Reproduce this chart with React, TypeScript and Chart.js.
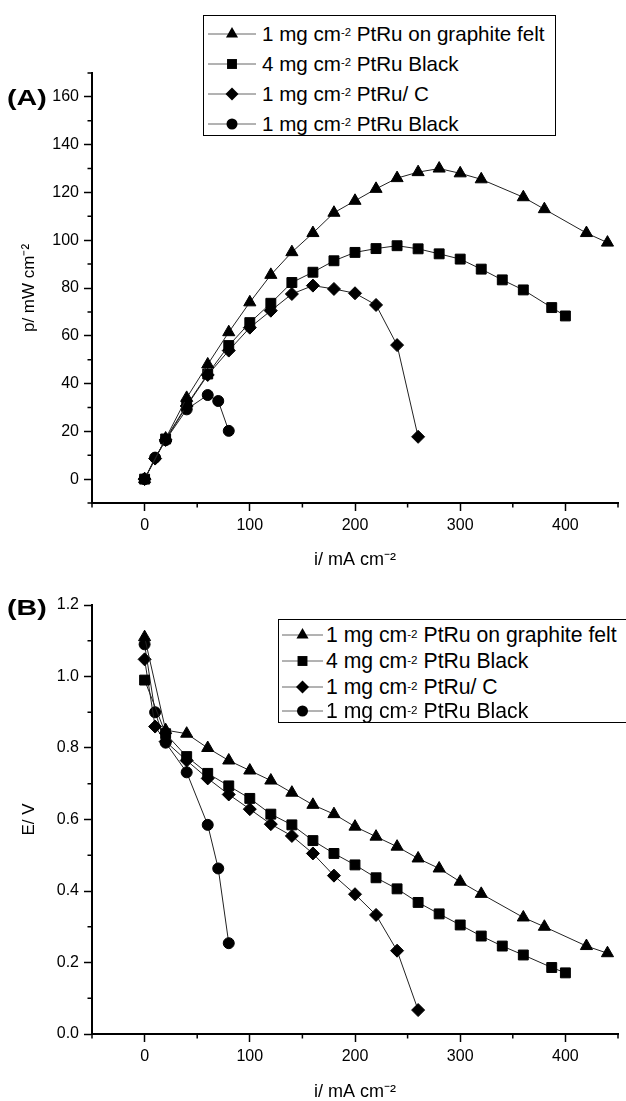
import React, { useEffect, useRef } from 'react';
import { Chart, registerables } from 'chart.js';

Chart.register(...registerables);

// ---------------- data ----------------
const SERIES_PREFIX = ['1 mg cm', '4 mg cm', '1 mg cm', '1 mg cm'];
const SERIES_SUP = ['-2', '-2', '-2', '-2'];
const SERIES_SUFFIX = [' PtRu on graphite felt', ' PtRu Black', ' PtRu/ C', ' PtRu Black'];

// 1 mg cm-2 PtRu on graphite felt
const feltI = [0, 20, 40, 60, 80, 100, 120, 140, 160, 180, 200, 220, 240, 260, 280, 300, 320, 360, 380, 420, 440];
const feltP = [0, 17, 34, 48, 61.5, 74, 85.5, 95, 103, 111.5, 116.5, 121.5, 126, 128.5, 130, 128, 125.5, 118, 113, 103, 99];
const feltE = [1.11, 0.85, 0.84, 0.8, 0.765, 0.737, 0.709, 0.675, 0.641, 0.615, 0.58, 0.552, 0.524, 0.491, 0.463, 0.426, 0.392, 0.326, 0.3, 0.246, 0.226];

// 4 mg cm-2 PtRu Black
const black4I = [0, 20, 40, 60, 80, 100, 120, 140, 160, 180, 200, 220, 240, 260, 280, 300, 320, 340, 360, 387, 400];
const black4P = [0, 16.8, 31, 44, 55.9, 65.5, 73.6, 82.3, 86.6, 91.4, 94.9, 96.5, 97.7, 96.4, 94.3, 92.1, 87.9, 83.4, 79.2, 71.8, 68.3];
const black4E = [0.99, 0.84, 0.776, 0.729, 0.694, 0.659, 0.615, 0.585, 0.541, 0.505, 0.473, 0.437, 0.406, 0.368, 0.336, 0.305, 0.274, 0.246, 0.221, 0.186, 0.171];

// 1 mg cm-2 PtRu/ C
const carbonI = [0, 10, 20, 40, 60, 80, 100, 120, 140, 160, 180, 200, 220, 240, 260];
const carbonP = [0, 8.6, 16.4, 30.6, 43.6, 53.8, 63.4, 70.5, 77.5, 81, 79.6, 77.8, 72.9, 56.1, 17.7];
const carbonE = [1.048, 0.86, 0.818, 0.765, 0.715, 0.67, 0.629, 0.587, 0.554, 0.505, 0.443, 0.391, 0.333, 0.233, 0.067];

// 1 mg cm-2 PtRu Black
const black1I = [0, 10, 20, 40, 60, 70, 80];
const black1P = [0, 9, 16.3, 29.2, 35.2, 32.7, 20.2];
const black1E = [1.09, 0.9, 0.815, 0.732, 0.585, 0.463, 0.254];

const xTicks = [0, 100, 200, 300, 400];
const xMinorTicks = [-50, 50, 150, 250, 350, 450];
const pTicks = [0, 20, 40, 60, 80, 100, 120, 140, 160];
const pMinorTicks = [-10, 10, 30, 50, 70, 90, 110, 130, 150, 170];
const eTicks = [0, 0.2, 0.4, 0.6, 0.8, 1.0, 1.2];
const eMinorTicks = [0.1, 0.3, 0.5, 0.7, 0.9, 1.1];

// ---------------- styles ----------------
const FONT = "'Liberation Sans', Arial, Helvetica, sans-serif";
const POINT_STYLES = ['triangle', 'rect', 'rectRot', 'circle'];
const POINT_RADII = [7, 7, 6.5, 5.5];
const LINE_COLOR = '#222';

function zip(xs: number[], ys: number[]) {
  return xs.map((x, i) => ({ x, y: ys[i] }));
}

function makeDatasets(series: { x: number; y: number }[][]) {
  return series.map((data, i) => ({
    label: SERIES_PREFIX[i] + '\u207B\u00B2' + SERIES_SUFFIX[i],
    data,
    borderColor: LINE_COLOR,
    borderWidth: 1,
    backgroundColor: '#000',
    pointBackgroundColor: '#000',
    pointBorderColor: '#000',
    pointBorderWidth: 1,
    pointStyle: POINT_STYLES[i],
    pointRadius: POINT_RADII[i],
    tension: 0,
    clip: false as any,
  }));
}

function makeMinorPlugin(xs: number[], ys: number[], len: number) {
  return {
    id: 'minorTicks',
    afterDraw(chart: any) {
      const { ctx } = chart;
      const x = chart.scales.x;
      const y = chart.scales.y;
      ctx.save();
      ctx.strokeStyle = '#000';
      ctx.lineWidth = 1.5;
      ctx.beginPath();
      for (const v of xs) {
        const px = x.getPixelForValue(v);
        ctx.moveTo(px, y.bottom);
        ctx.lineTo(px, y.bottom + len);
      }
      for (const v of ys) {
        const py = y.getPixelForValue(v);
        ctx.moveTo(x.left, py);
        ctx.lineTo(x.left - len, py);
      }
      ctx.stroke();
      ctx.restore();
    },
  };
}

interface PanelOpts {
  datasets: any[];
  yMin: number;
  yMax: number;
  yTicks: number[];
  yMinor: number[];
  yDecimals: number;
  yTitle: string;
  padTop: number;
  xAxisHeight: number;
  xTitlePadBottom: number;
}

function makeConfig(o: PanelOpts): any {
  return {
    type: 'line',
    data: { datasets: o.datasets },
    plugins: [makeMinorPlugin(xMinorTicks, o.yMinor, 4.5)],
    options: {
      animation: false,
      responsive: false,
      maintainAspectRatio: false,
      devicePixelRatio: 1,
      layout: { padding: { top: o.padTop, right: 3, left: 0, bottom: 0 } },
      plugins: {
        legend: { display: false },
        tooltip: { enabled: false },
        title: { display: false },
      },
      scales: {
        x: {
          type: 'linear',
          min: -50,
          max: 450,
          afterBuildTicks: (s: any) => {
            s.ticks = xTicks.map((v) => ({ value: v }));
          },
          afterFit: (s: any) => {
            s.height = o.xAxisHeight;
          },
          grid: {
            drawOnChartArea: false,
            drawTicks: true,
            tickLength: 8,
            tickColor: '#000',
            tickWidth: 1.5,
          },
          border: { display: true, color: '#000', width: 2 },
          ticks: {
            color: '#000',
            font: { family: FONT, size: 16 },
            padding: 5,
            maxRotation: 0,
            callback: (v: any) => String(v),
          },
          title: {
            display: true,
            text: 'i/ mA cm\u207B\u00B2',
            color: '#000',
            font: { family: FONT, size: 18, lineHeight: 1 },
            padding: { top: 0, bottom: o.xTitlePadBottom },
          },
        },
        y: {
          type: 'linear',
          min: o.yMin,
          max: o.yMax,
          afterBuildTicks: (s: any) => {
            s.ticks = o.yTicks.map((v) => ({ value: v }));
          },
          afterFit: (s: any) => {
            s.width = 92;
          },
          grid: {
            drawOnChartArea: false,
            drawTicks: true,
            tickLength: 8,
            tickColor: '#000',
            tickWidth: 1.5,
          },
          border: { display: true, color: '#000', width: 2 },
          ticks: {
            color: '#000',
            font: { family: FONT, size: 16 },
            padding: 5,
            callback: (v: any) => Number(v).toFixed(o.yDecimals),
          },
          title: {
            display: true,
            text: o.yTitle,
            color: '#000',
            font: { family: FONT, size: 17, lineHeight: 1 },
            padding: { top: 21, bottom: 0 },
          },
        },
      },
    },
  };
}

function MarkerIcon({ idx, width }: { idx: number; width: number }) {
  const h = 22;
  const cx = width / 2;
  const cy = h / 2;
  const r = POINT_RADII[idx];
  let shape: React.ReactNode = null;
  const style = POINT_STYLES[idx];
  if (style === 'triangle') {
    const pts = [0, 1, 2]
      .map((k) => {
        const a = (k * 2 * Math.PI) / 3;
        return `${cx + Math.sin(a) * r},${cy - Math.cos(a) * r}`;
      })
      .join(' ');
    shape = <polygon points={pts} fill="#000" />;
  } else if (style === 'rect') {
    const s = r * Math.SQRT1_2;
    shape = <rect x={cx - s} y={cy - s} width={2 * s} height={2 * s} fill="#000" />;
  } else if (style === 'rectRot') {
    shape = <polygon points={`${cx},${cy - r} ${cx + r},${cy} ${cx},${cy + r} ${cx - r},${cy}`} fill="#000" />;
  } else {
    shape = <circle cx={cx} cy={cy} r={r} fill="#000" />;
  }
  return (
    <svg width={width} height={h} style={{ display: 'block' }}>
      <line x1={0} y1={cy} x2={width} y2={cy} stroke="#666" strokeWidth={1} />
      {shape}
    </svg>
  );
}

function Legend(props: {
  left: number;
  top: number;
  width: number;
  height: number;
  rows: number[];
  iconLeft: number;
  iconWidth: number;
  textLeft: number;
  fontSize: number;
}) {
  return (
    <div
      style={{
        position: 'absolute',
        left: props.left,
        top: props.top,
        width: props.width,
        height: props.height,
        border: '1.5px solid #000',
        boxSizing: 'border-box',
        background: '#fff',
        fontFamily: FONT,
        color: '#000',
      }}
    >
      {SERIES_PREFIX.map((p, i) => (
        <div key={i}>
          <div style={{ position: 'absolute', left: props.iconLeft, top: props.rows[i] - 11 }}>
            <MarkerIcon idx={i} width={props.iconWidth} />
          </div>
          <div
            style={{
              position: 'absolute',
              left: props.textLeft,
              top: props.rows[i] - props.fontSize * 0.6,
              fontSize: props.fontSize,
              lineHeight: `${props.fontSize * 1.2}px`,
              whiteSpace: 'nowrap',
            }}
          >
            {p}
            <sup style={{ fontSize: '0.55em', verticalAlign: 'top', position: 'relative', top: '-0.15em' }}>
              {SERIES_SUP[i]}
            </sup>
            {SERIES_SUFFIX[i]}
          </div>
        </div>
      ))}
    </div>
  );
}

export default function App() {
  const refA = useRef<HTMLCanvasElement>(null);
  const refB = useRef<HTMLCanvasElement>(null);

  useEffect(() => {
    const cfgA = makeConfig({
      datasets: makeDatasets([
        zip(feltI, feltP),
        zip(black4I, black4P),
        zip(carbonI, carbonP),
        zip(black1I, black1P),
      ]),
      yMin: -10,
      yMax: 170,
      yTicks: pTicks,
      yMinor: pMinorTicks,
      yDecimals: 0,
      yTitle: 'p/ mW cm\u207B\u00B2',
      padTop: 73,
      xAxisHeight: 77,
      xTitlePadBottom: 11,
    });
    const cfgB = makeConfig({
      datasets: makeDatasets([
        zip(feltI, feltE),
        zip(black4I, black4E),
        zip(carbonI, carbonE),
        zip(black1I, black1E),
      ]),
      yMin: 0,
      yMax: 1.2,
      yTicks: eTicks,
      yMinor: eMinorTicks,
      yDecimals: 1,
      yTitle: 'E/ V',
      padTop: 25,
      xAxisHeight: 67,
      xTitlePadBottom: 0,
    });
    const a = new Chart(refA.current!, cfgA);
    const b = new Chart(refB.current!, cfgB);
    return () => {
      a.destroy();
      b.destroy();
    };
  }, []);

  const panelLabel = (top: number, text: string) => (
    <div
      style={{
        position: 'absolute',
        left: 7,
        top,
        fontFamily: FONT,
        fontWeight: 'bold',
        fontSize: 22,
        lineHeight: '24px',
        transform: 'scaleX(1.3)',
        transformOrigin: 'left center',
        color: '#000',
        whiteSpace: 'nowrap',
      }}
    >
      {text}
    </div>
  );

  return (
    <div
      style={{
        position: 'fixed',
        left: 0,
        top: 0,
        width: 626,
        height: 1101,
        background: '#fff',
        overflow: 'hidden',
      }}
    >
      <canvas ref={refA} width={626} height={580} style={{ position: 'absolute', left: 0, top: 0, display: 'block' }} />
      <canvas ref={refB} width={626} height={521} style={{ position: 'absolute', left: 0, top: 580, display: 'block' }} />
      {panelLabel(86, '(A)')}
      {panelLabel(596, '(B)')}
      <Legend
        left={203}
        top={15}
        width={353}
        height={121}
        rows={[18, 48, 78, 108]}
        iconLeft={4}
        iconWidth={48}
        textLeft={58}
        fontSize={20.6}
      />
      <Legend
        left={278}
        top={619}
        width={350}
        height={104}
        rows={[15, 41, 67, 91]}
        iconLeft={3}
        iconWidth={41}
        textLeft={47}
        fontSize={21.2}
      />
    </div>
  );
}
